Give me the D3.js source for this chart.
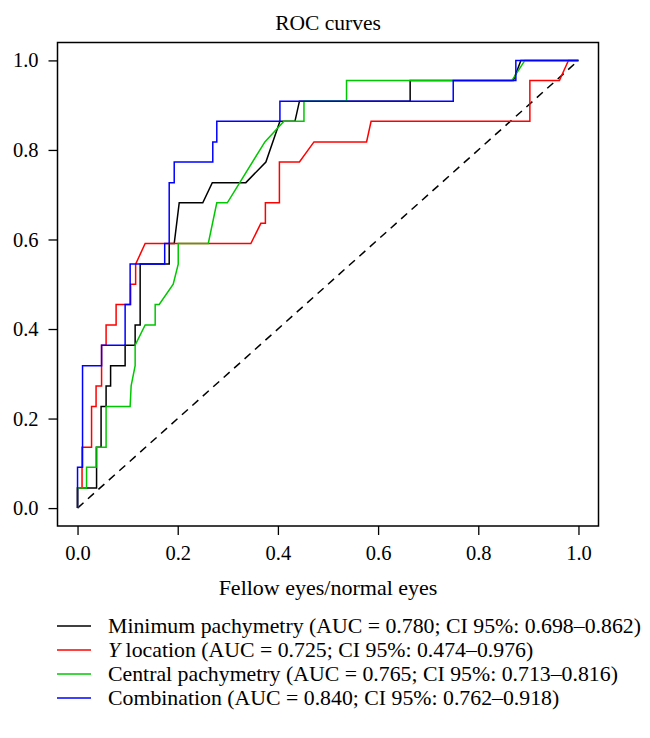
<!DOCTYPE html>
<html>
<head>
<meta charset="utf-8">
<script src="https://cdn.jsdelivr.net/npm/d3@7"></script>
<style>
  html, body { margin: 0; padding: 0; background: #fff; overflow: hidden; }
  svg { display: block; }
  text { font-family: "Liberation Serif", "DejaVu Serif", serif; fill: #000; }
</style>
</head>
<body>
<div id="chart"></div>
<script>
// ---- Data (1 - specificity on x, sensitivity on y) ----
const minPachyX = [0, 0, 0.038, 0.038, 0.047, 0.047, 0.057, 0.057, 0.066, 0.066, 0.095, 0.095, 0.115, 0.115, 0.125, 0.125, 0.183, 0.183, 0.193, 0.203, 0.25, 0.269, 0.336, 0.376, 0.404, 0.434, 0.443, 0.664, 0.664, 0.87, 0.885, 1];
const minPachyY = [0, 0.045, 0.045, 0.136, 0.136, 0.227, 0.227, 0.273, 0.273, 0.318, 0.318, 0.364, 0.364, 0.409, 0.409, 0.545, 0.545, 0.591, 0.591, 0.682, 0.682, 0.727, 0.727, 0.773, 0.864, 0.864, 0.909, 0.909, 0.955, 0.955, 1, 1];

const yLocX = [0, 0, 0.009, 0.009, 0.028, 0.028, 0.037, 0.037, 0.048, 0.048, 0.057, 0.057, 0.077, 0.077, 0.106, 0.106, 0.116, 0.116, 0.135, 0.346, 0.366, 0.375, 0.375, 0.403, 0.403, 0.443, 0.472, 0.577, 0.586, 0.903, 0.903, 0.962, 0.98, 1];
const yLocY = [0, 0.045, 0.045, 0.136, 0.136, 0.227, 0.227, 0.273, 0.273, 0.364, 0.364, 0.409, 0.409, 0.455, 0.455, 0.5, 0.5, 0.545, 0.591, 0.591, 0.636, 0.636, 0.682, 0.682, 0.773, 0.773, 0.818, 0.818, 0.864, 0.864, 0.955, 0.955, 1, 1];

const centralPachyX = [0, 0, 0.018, 0.018, 0.037, 0.037, 0.057, 0.057, 0.105, 0.107, 0.115, 0.115, 0.135, 0.155, 0.155, 0.163, 0.191, 0.201, 0.201, 0.261, 0.278, 0.299, 0.374, 0.412, 0.452, 0.452, 0.537, 0.537, 0.867, 0.893, 1];
const centralPachyY = [0, 0.045, 0.045, 0.091, 0.091, 0.136, 0.136, 0.227, 0.227, 0.273, 0.318, 0.364, 0.409, 0.409, 0.455, 0.455, 0.5, 0.545, 0.591, 0.591, 0.682, 0.682, 0.818, 0.864, 0.864, 0.909, 0.909, 0.955, 0.955, 1, 1];

const combinationX = [0, 0, 0.01, 0.01, 0.048, 0.048, 0.095, 0.095, 0.105, 0.105, 0.174, 0.174, 0.183, 0.183, 0.193, 0.193, 0.27, 0.27, 0.278, 0.278, 0.404, 0.404, 0.75, 0.75, 0.875, 0.875, 1];
const combinationY = [0, 0.091, 0.091, 0.318, 0.318, 0.364, 0.364, 0.455, 0.455, 0.545, 0.545, 0.591, 0.591, 0.727, 0.727, 0.773, 0.773, 0.818, 0.818, 0.864, 0.864, 0.909, 0.909, 0.955, 0.955, 1, 1];

const seriesNames = ["Minimum pachymetry", "Y location", "Central pachymetry", "Combination"];
const seriesAUC = ["0.780", "0.725", "0.765", "0.840"];
const seriesCI = ["0.698\u20130.862", "0.474\u20130.976", "0.713\u20130.816", "0.762\u20130.918"];
const seriesColors = ["#000000", "#ff0000", "#00c800", "#0000ff"];
const tickValues = [0, 0.2, 0.4, 0.6, 0.8, 1.0];
const chartTitle = "ROC curves";
const xLabel = "Fellow eyes/normal eyes";

// ---- Layout ----
const W = 650, H = 738;
const svg = d3.select("#chart").append("svg").attr("width", W).attr("height", H);

const x = d3.scaleLinear().domain([-0.04, 1.04]).range([57.5, 598.5]);
const y = d3.scaleLinear().domain([-0.04, 1.04]).range([526, 42.5]);

// Title
svg.append("text").attr("x", (x.range()[0] + x.range()[1]) / 2).attr("y", 29.5)
  .attr("text-anchor", "middle").style("font-size", "21.5px").text(chartTitle);

// Box
svg.append("rect").attr("x", 57.5).attr("y", 42.5).attr("width", 541).attr("height", 483.5)
  .attr("fill", "none").attr("stroke", "#000").attr("stroke-width", 1.5);

// Axes
const xAxis = svg.append("g").attr("transform", "translate(0,526)")
  .call(d3.axisBottom(x).tickValues(tickValues).tickSize(9).tickPadding(10).tickFormat(d3.format(".1f")));
const yAxis = svg.append("g").attr("transform", "translate(57.5,0)")
  .call(d3.axisLeft(y).tickValues(tickValues).tickSize(9).tickPadding(10).tickFormat(d3.format(".1f")));
[xAxis, yAxis].forEach(g => {
  g.select(".domain").remove();
  g.selectAll(".tick line").attr("stroke", "#000").attr("stroke-width", 1.3);
  g.selectAll(".tick text").style("font-family", "'Liberation Serif', serif").style("font-size", "20.5px").attr("fill", "#000");
});

// X label
svg.append("text").attr("x", 328).attr("y", 595).attr("text-anchor", "middle")
  .style("font-size", "22px").text(xLabel);

// Diagonal reference
svg.append("line").attr("x1", x(0)).attr("y1", y(0)).attr("x2", x(1)).attr("y2", y(1))
  .attr("stroke", "#000").attr("stroke-width", 1.5).attr("stroke-dasharray", "8,6");

// Curves
const seriesX = [minPachyX, yLocX, centralPachyX, combinationX];
const seriesY = [minPachyY, yLocY, centralPachyY, combinationY];
const line = d3.line().x(d => x(d[0])).y(d => y(d[1]));
seriesX.forEach((xs, i) => {
  const pts = xs.map((v, j) => [v, seriesY[i][j]]);
  svg.append("path").datum(pts).attr("d", line).attr("fill", "none")
    .attr("stroke", seriesColors[i]).attr("stroke-width", 1.5).attr("stroke-linejoin", "miter");
});

// Legend
const legY0 = 626, legDy = 24;
seriesNames.forEach((name, i) => {
  const yy = legY0 + i * legDy;
  svg.append("line").attr("x1", 57).attr("x2", 91).attr("y1", yy).attr("y2", yy)
    .attr("stroke", seriesColors[i]).attr("stroke-width", 1.5);
  const t = svg.append("text").attr("x", 108).attr("y", yy + 6.5).style("font-size", "21.8px");
  if (name === "Y location") {
    t.append("tspan").style("font-style", "italic").text("Y");
    t.append("tspan").text(" location");
  } else {
    t.append("tspan").text(name);
  }
  t.append("tspan").text(" (AUC = " + seriesAUC[i] + "; CI 95%: " + seriesCI[i] + ")");
});
</script>
</body>
</html>
